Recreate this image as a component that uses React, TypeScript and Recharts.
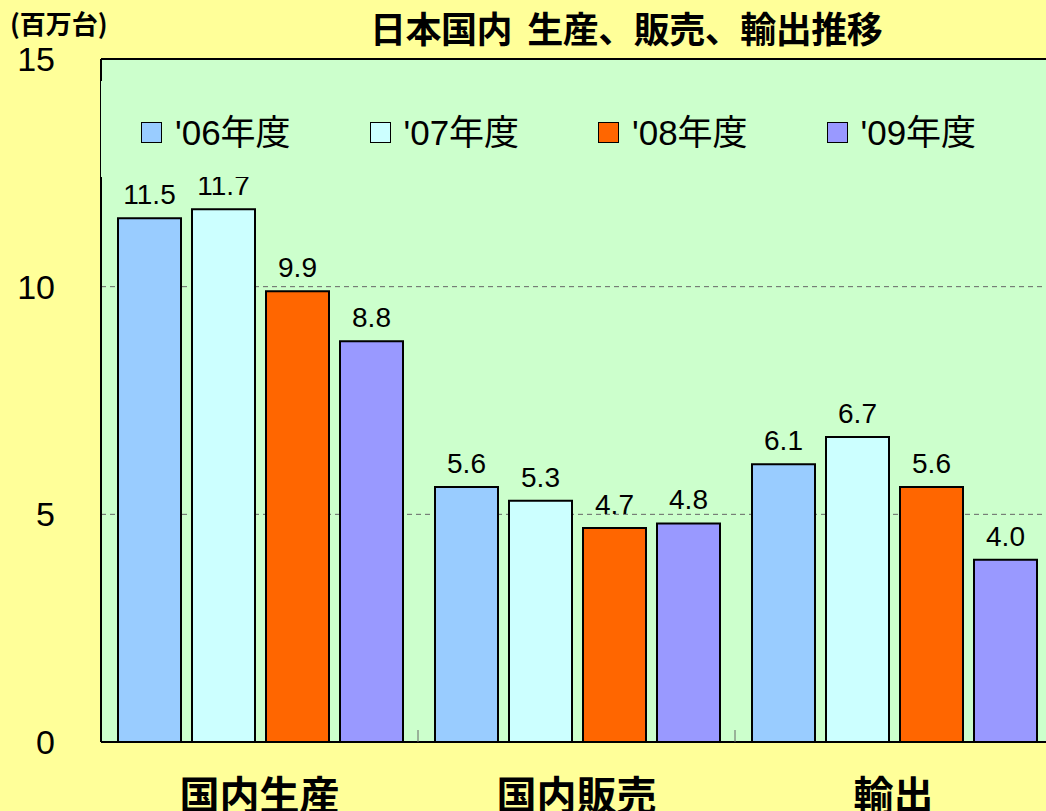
import { BarChart, Bar, XAxis, YAxis, CartesianGrid, Legend, LabelList, ReferenceLine } from 'recharts';

const categories = ['国内生産', '国内販売', '輸出'];
const seriesNames = ["'06年度", "'07年度", "'08年度", "'09年度"];
const fy06 = [11.5, 5.6, 6.1];
const fy07 = [11.7, 5.3, 6.7];
const fy08 = [9.9, 4.7, 5.6];
const fy09 = [8.8, 4.8, 4.0];
const yTicks = [0, 5, 10, 15];

const COLORS = ['#99CCFF', '#CCFFFF', '#FF6600', '#9999FF'];
const KEYS = ['fy06', 'fy07', 'fy08', 'fy09'];

const CHART_W = 1060;
const CHART_H = 811;
const MARGIN = { top: 59, right: 8, bottom: 0, left: 0 };
const YAXIS_W = 101;
const XAXIS_H = 69;
const PLOT_W = CHART_W - MARGIN.left - MARGIN.right - YAXIS_W;
const BAND = PLOT_W / categories.length;

const NUM_FONT = '"Liberation Sans", Arial, "Noto Sans CJK JP", sans-serif';
const JP_FONT = '"Noto Sans CJK JP", sans-serif';

const data = categories.map((name, i) => ({
  name,
  fy06: fy06[i],
  fy07: fy07[i],
  fy08: fy08[i],
  fy09: fy09[i],
}));

function CategoryTick(props: any) {
  const { x, y, payload, index } = props;
  return (
    <g>
      {index > 0 && (
        <line x1={x - BAND / 2} x2={x - BAND / 2} y1={y} y2={y - 12} stroke="#666" strokeWidth={1} />
      )}
      <text x={x} y={y + 68} textAnchor="middle" fontFamily={JP_FONT} fontWeight={700} fontSize={40} fill="#000">
        {payload.value}
      </text>
    </g>
  );
}

function LegendBox(props: any) {
  const { payload } = props;
  return (
    <div style={{ display: 'flex', alignItems: 'center', height: '100%', paddingLeft: 40, paddingTop: 6, boxSizing: 'border-box' }}>
      {(payload || []).map((entry: any) => (
        <div key={entry.value} style={{ width: 228.5, display: 'flex', alignItems: 'center' }}>
          <span
            style={{
              display: 'inline-block',
              width: 19,
              height: 19,
              background: entry.color,
              border: '1.5px solid #000',
              marginRight: 13,
            }}
          />
          <span style={{ fontFamily: NUM_FONT, fontSize: 35, color: '#000', lineHeight: 1 }}>{entry.value}</span>
        </div>
      ))}
    </div>
  );
}

export default function App() {
  return (
    <div
      style={{
        position: 'absolute',
        left: 0,
        top: 0,
        width: 1046,
        height: 811,
        overflow: 'hidden',
        background: '#FFFF99',
      }}
    >
      <div style={{ position: 'absolute', left: 10, top: 10, fontFamily: JP_FONT, fontWeight: 700, fontSize: 26, lineHeight: '26px', color: '#000' }}>
        (百万台)
      </div>
      <div style={{ position: 'absolute', left: 370, top: 9, fontFamily: JP_FONT, fontWeight: 700, fontSize: 36, lineHeight: '36px', color: '#000', whiteSpace: 'pre', letterSpacing: -0.5 }}>
        日本国内  生産、販売、輸出推移
      </div>
      <BarChart
        width={CHART_W}
        height={CHART_H}
        data={data}
        margin={MARGIN}
        barCategoryGap={17}
        barGap={11}
      >
        <CartesianGrid vertical={false} fill="#CCFFCC" stroke="#666" strokeDasharray="5 4" />
        <XAxis
          dataKey="name"
          height={XAXIS_H}
          axisLine={{ stroke: '#000', strokeWidth: 2 }}
          tickLine={false}
          tickSize={0}
          tickMargin={0}
          tick={<CategoryTick />}
          interval={0}
        />
        <YAxis
          width={YAXIS_W}
          domain={[0, 15]}
          ticks={yTicks}
          allowDataOverflow
          axisLine={{ stroke: '#000', strokeWidth: 2 }}
          tickLine={false}
          tickSize={0}
          tickMargin={46}
          tick={{ fontFamily: NUM_FONT, fontSize: 34, fill: '#000' }}
        />
        <ReferenceLine y={15} stroke="#000" strokeWidth={2} />
        <Legend
          layout="horizontal"
          verticalAlign="middle"
          align="center"
          content={<LegendBox />}
          wrapperStyle={{
            left: 100,
            top: 81,
            width: 960,
            height: 96,
            background: '#CCFFCC',
            borderLeft: '1px solid #000',
            boxSizing: 'border-box',
          }}
        />
        {KEYS.map((k, i) => (
          <Bar
            key={k}
            dataKey={k}
            name={seriesNames[i]}
            fill={COLORS[i]}
            stroke="#000"
            strokeWidth={2}
            isAnimationActive={false}
          >
            <LabelList
              dataKey={k}
              position="top"
              offset={14}
              formatter={(v: any) => Number(v).toFixed(1)}
              style={{ fontFamily: NUM_FONT, fontSize: 28, fill: '#000' }}
            />
          </Bar>
        ))}
      </BarChart>
    </div>
  );
}
